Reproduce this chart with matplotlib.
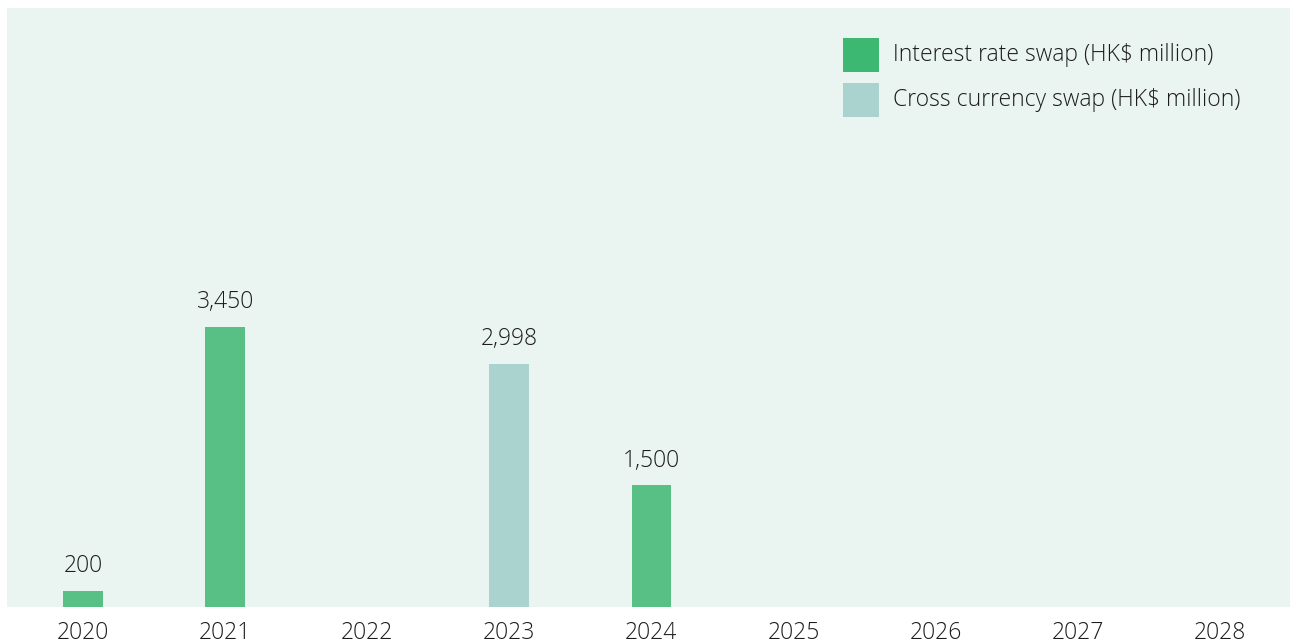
import matplotlib
matplotlib.use("Agg")
import matplotlib.pyplot as plt
from matplotlib.patches import Rectangle

years = ["2020", "2021", "2022", "2023", "2024", "2025", "2026", "2027", "2028"]
interest_rate_swap = [200, 3450, 0, 0, 1500, 0, 0, 0, 0]
cross_currency_swap = [0, 0, 0, 2998, 0, 0, 0, 0, 0]
labels_irs = ["200", "3,450", "", "", "1,500", "", "", "", ""]
labels_ccs = ["", "", "", "2,998", "", "", "", "", ""]
legend_names = ["Interest rate swap (HK$ million)", "Cross currency swap (HK$ million)"]

GREEN = "#58BF85"
TEAL = "#AAD3D0"
BG = "#EAF4F0"
TXT = "#1C1C1C"

plt.rcParams['font.family'] = ['Open Sans', 'DejaVu Sans']
plt.rcParams['font.weight'] = 'light'

W, H = 1292, 643
fig = plt.figure(figsize=(W / 100, H / 100), dpi=100)
ax = fig.add_axes([7 / W, (H - 607) / H, 1283 / W, 599 / H])
ax.set_facecolor(BG)

x = list(range(len(years)))
bw = 0.28
ax.bar(x, interest_rate_swap, width=bw, color=GREEN, zorder=2)
ax.bar(x, cross_currency_swap, width=bw, color=TEAL, zorder=2)

for i in x:
    for val, lab in ((interest_rate_swap[i], labels_irs[i]), (cross_currency_swap[i], labels_ccs[i])):
        if lab:
            ax.annotate(lab, (i, val), xytext=(0, 9), textcoords="offset points",
                        ha="center", va="bottom", fontsize=16.5, color=TXT)

ax.set_xlim(-0.535, 8.494)
ax.set_ylim(0, 7380)
ax.set_xticks(x)
ax.set_xticklabels(years, fontsize=16.5, color=TXT)
ax.tick_params(axis="x", length=0, pad=10)
ax.set_yticks([])
for s in ax.spines.values():
    s.set_visible(False)

# legend
for k, (name, col) in enumerate(zip(legend_names, [GREEN, TEAL])):
    y_top = 38 + k * 45
    fig.patches.append(Rectangle((843 / W, 1 - (y_top + 34) / H), 36 / W, 34 / H,
                                 transform=fig.transFigure, facecolor=col if k else "#3DB873",
                                 edgecolor="none"))
    fig.text(893 / W, 1 - (y_top + 17) / H, name, fontsize=16.5, color=TXT,
             ha="left", va="center")

fig.savefig("out.png", dpi=100, facecolor="white")
